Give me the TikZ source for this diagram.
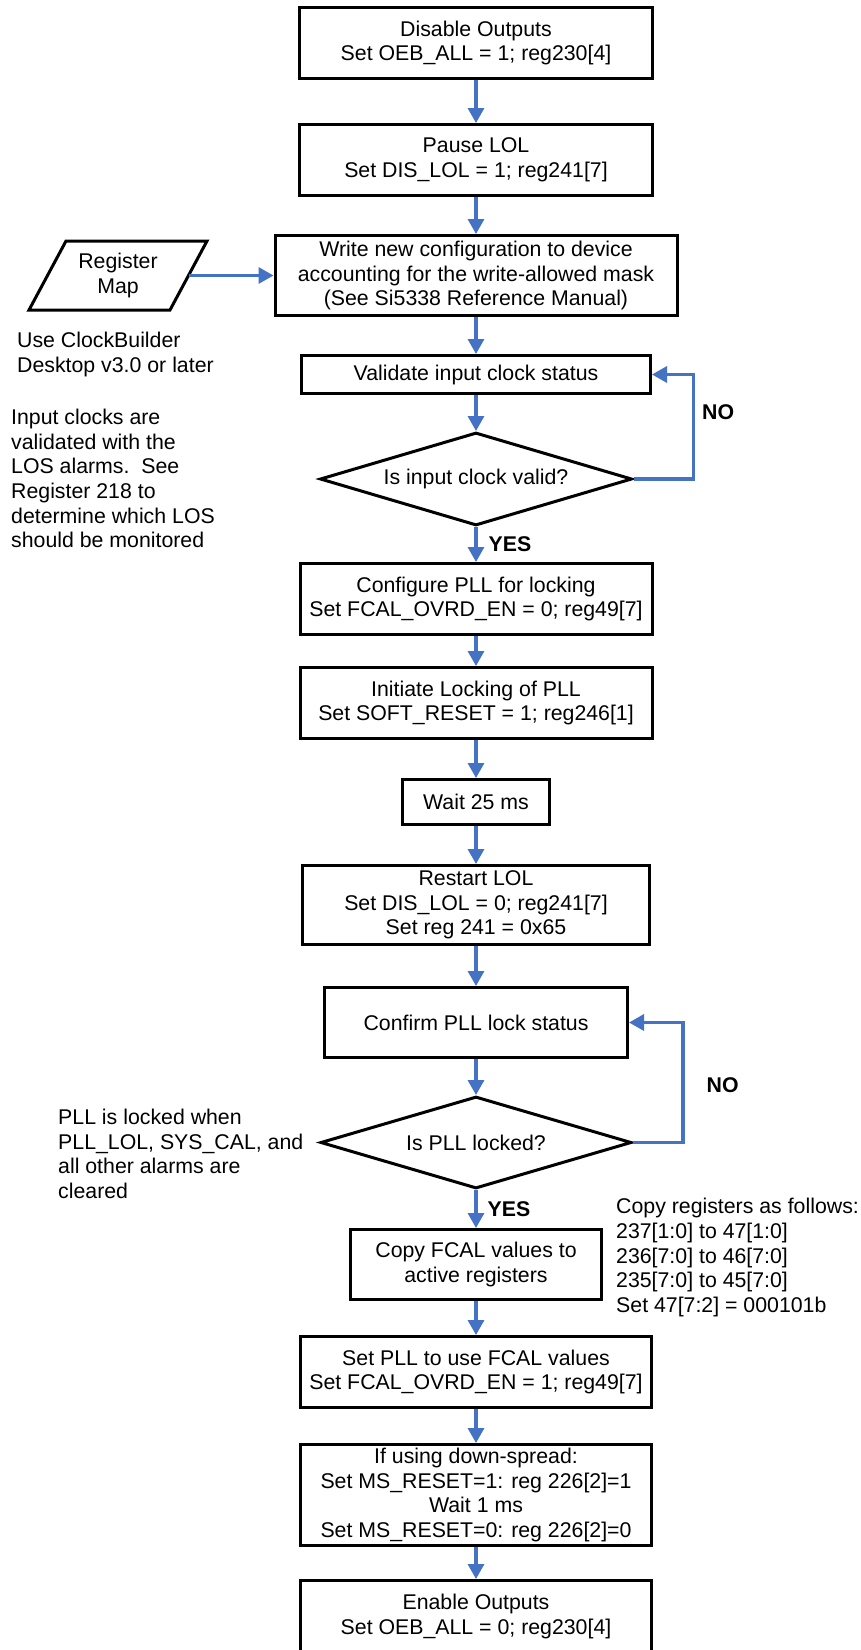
\documentclass[tikz,border=0pt]{standalone}
\usepackage{fontspec}
\setmainfont{Liberation Sans}
\usepackage{tikz}
\usetikzlibrary{positioning, arrows.meta, shapes.geometric}
\definecolor{flowblue}{RGB}{68,114,196}

\begin{document}
\begin{tikzpicture}[
  x=1pt, y=-1pt,
  font=\fontsize{21.3}{24.6}\selectfont,
  box/.style={draw, line width=3pt, align=center, inner sep=1pt,
              minimum width=353pt, minimum height=71pt},
  decision/.style={draw, diamond, line width=3pt, align=center, inner sep=1pt,
                   aspect=3.35, minimum width=312pt, minimum height=93pt},
  note/.style={align=left, inner sep=0pt, anchor=west},
  tag/.style={font=\fontsize{21.3}{24.6}\selectfont\bfseries, inner sep=0pt},
  arr/.style={-{Triangle[length=15pt, width=16pt]}, line width=3.3pt, draw=flowblue}
]
\useasboundingbox (0,0) rectangle (860,1650);
\node[box] (disable) at (476,43) {Disable Outputs\\Set OEB\_ALL = 1; reg230[4]};
\node[box, below=43pt of disable] (pause) {Pause LOL\\Set DIS\_LOL = 1; reg241[7]};
\node[box, below=37pt of pause, minimum width=402pt, minimum height=80pt] (writecfg)
  {Write new configuration to device\\accounting for the write-allowed mask\\(See Si5338 Reference Manual)};
\node[box, below=37pt of writecfg, minimum width=349pt, minimum height=38pt] (validate) {Validate input clock status};
\node[decision, below=36pt of validate] (clkvalid) {Is input clock valid?};
\node[box, below=35pt of clkvalid, minimum width=352pt] (config) {Configure PLL for locking\\Set FCAL\_OVRD\_EN = 0; reg49[7]};
\node[box, below=30pt of config, minimum width=352pt] (initiate) {Initiate Locking of PLL\\Set SOFT\_RESET = 1; reg246[1]};
\node[box, below=38pt of initiate, minimum width=147pt, minimum height=45pt] (wait) {Wait 25 ms};
\node[box, below=38pt of wait, minimum width=347pt, minimum height=79pt] (restart)
  {Restart LOL\\Set DIS\_LOL = 0; reg241[7]\\Set reg 241 = 0x65};
\node[box, below=40pt of restart, minimum width=303pt, minimum height=70pt] (confirm) {Confirm PLL lock status};
\node[decision, below=36pt of confirm, minimum width=311pt, minimum height=92pt] (plllocked) {Is PLL locked?};
\node[box, below=38pt of plllocked, minimum width=251pt, minimum height=70pt] (copyfcal) {Copy FCAL values to\\active registers};
\node[box, below=34pt of copyfcal, minimum width=351pt] (usefcal) {Set PLL to use FCAL values\\Set FCAL\_OVRD\_EN = 1; reg49[7]};
\node[box, below=34pt of usefcal, minimum width=351pt, minimum height=101pt] (spread)
  {If using down-spread:\\Set MS\_RESET=1: reg 226[2]=1\\Wait 1 ms\\Set MS\_RESET=0: reg 226[2]=0};
\node[box, below=32pt of spread, minimum width=351pt, minimum height=72pt] (enable) {Enable Outputs\\Set OEB\_ALL = 0; reg230[4]};

% register map input
\node[inner sep=0pt, outer sep=0pt, minimum width=141pt, minimum height=69pt, align=center] (regmap) at (118,275.5) {Register\\Map};
\draw[line width=3pt] ([xshift=18.5pt]regmap.north west) -- ([xshift=18.5pt]regmap.north east)
  -- ([xshift=-18.5pt]regmap.south east) -- ([xshift=-18.5pt]regmap.south west) -- cycle;

% side notes
\node[note] (cbnote) at (17,354.5) {Use ClockBuilder\\Desktop v3.0 or later};
\node[note] (losnote) at (11,478.5) {Input clocks are\\validated with the\\LOS alarms.\ \ See\\Register 218 to\\determine which LOS\\should be monitored};
\node[note] (locknote) at (58,1154) {PLL is locked when\\PLL\_LOL, SYS\_CAL, and\\all other alarms are\\cleared};
\node[note] (copynote) at (616,1257.5) {Copy registers as follows:\\237[1:0] to 47[1:0]\\236[7:0] to 46[7:0]\\235[7:0] to 45[7:0]\\Set 47[7:2] = 000101b};

\draw[arr] (disable) -- (pause);
\draw[arr] (pause) -- (writecfg);
\draw[arr] (regmap.east) -- (regmap.east -| writecfg.west);
\draw[arr] (writecfg) -- (validate);
\draw[arr] (validate) -- (clkvalid);
\draw[arr] (clkvalid) -- node[tag, right=11pt] {YES} (config);
\draw[arr] (clkvalid.east) -- ++(60,0) |- node[tag, pos=0.32, right=7pt] {NO} (validate.east);
\draw[arr] (config) -- (initiate);
\draw[arr] (initiate) -- (wait);
\draw[arr] (wait) -- (restart);
\draw[arr] (restart) -- (confirm);
\draw[arr] (confirm) -- (plllocked);
\draw[arr] (plllocked.east) -- ++(50,0) |- node[tag, pos=0.24, right=22pt] {NO} (confirm.east);
\draw[arr] (plllocked) -- node[tag, right=10pt] {YES} (copyfcal);
\draw[arr] (copyfcal) -- (usefcal);
\draw[arr] (usefcal) -- (spread);
\draw[arr] (spread) -- (enable);
\end{tikzpicture}
\end{document}
